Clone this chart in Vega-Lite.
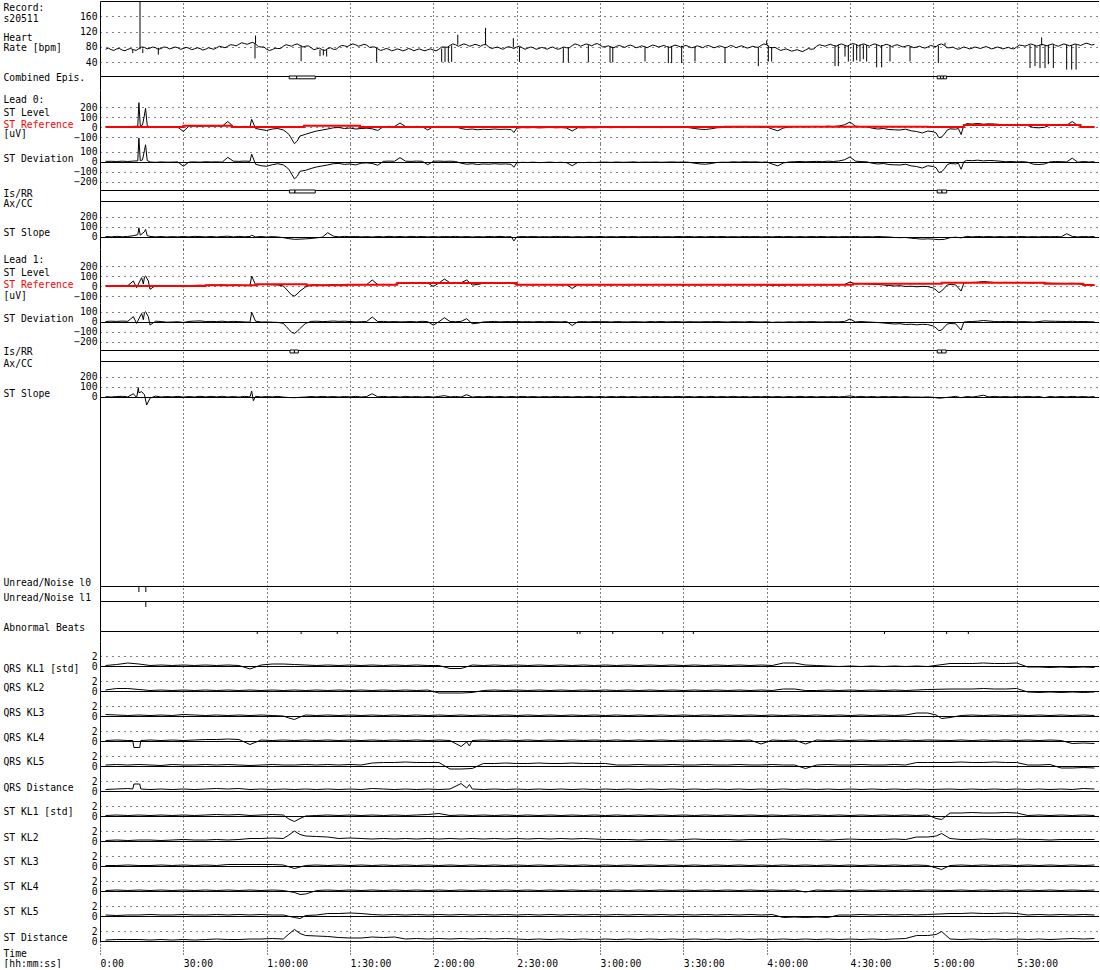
{
"$schema":"https://vega.github.io/schema/vega-lite/v6.json",
"background":"white",
"padding":{"left":3,"top":0,"right":0,"bottom":0},
"spacing":0,
"bounds":"flush",
"resolve":{"scale":{"x":"independent","y":"independent"},"axis":{"x":"independent","y":"independent"}},
"config":{
 "font":"DejaVu Sans Mono",
 "view":{"stroke":null},
 "mark":{"invalid":"filter"},
 "axis":{"labelFont":"DejaVu Sans Mono","labelFontSize":9.7,"labelColor":"black","titleFont":"DejaVu Sans Mono","titleFontSize":9.7,"titleFontWeight":"normal","titleColor":"black","domainColor":"black","tickColor":"black","gridColor":"black","gridOpacity":1,"gridWidth":1},
 "axisY":{"ticks":false,"domain":false,"labelPadding":3,"labelOverlap":false,"labelFlush":false,"gridDash":[1,5]}
},
"datasets":{
"main":[
{"t":2,"hr":74,"l0":3,"d0":3,"s0":2,"l1":2,"d1":2,"s1":1},
{"t":3,"hr":77},
{"t":4,"hr":73,"l0":5,"d0":4,"s0":-2,"l1":5,"d1":5,"s1":-3},
{"t":5,"hr":71},
{"t":6,"hr":75,"l0":2,"d0":2,"s0":3,"l1":3,"d1":3,"s1":2},
{"t":7,"hr":76},
{"t":8,"hr":72,"l0":4,"d0":5,"s0":-1,"l1":6,"d1":6,"s1":4},
{"t":9,"hr":70},
{"t":10,"hr":74,"l0":3,"d0":2,"s0":2,"l1":4,"d1":4,"s1":-2},
{"t":11,"hr":76},
{"t":12,"hr":73,"l0":6,"d0":6,"s0":10,"l1":50,"d1":50,"s1":30},
{"t":13,"hr":71},
{"t":13.2,"l1":-17,"d1":-17,"s1":-10},
{"t":13.6,"l0":8,"d0":8,"s0":20},
{"t":13.8,"s1":90},
{"t":14,"hr":76,"l0":243,"d0":234,"s0":90,"l1":30,"d1":30,"s1":40},
{"t":14.5,"l0":12,"d0":10,"s0":15},
{"t":15,"hr":80,"l1":83,"d1":83,"s1":50},
{"t":15.3,"l0":20,"d0":18},
{"t":15.6,"l1":20,"d1":20},
{"t":16,"hr":79,"l0":120,"d0":110,"s0":50,"l1":90,"d1":90,"s1":20},
{"t":16.4,"l0":187,"d0":167,"s0":74,"l1":100,"d1":100},
{"t":16.8,"s1":-83},
{"t":17,"hr":75,"l0":15,"d0":12,"s0":10},
{"t":17.4,"l1":50,"d1":50},
{"t":18,"hr":77,"l0":-3,"d0":-3,"s0":3,"l1":-33,"d1":-33,"s1":-15},
{"t":19,"hr":80},
{"t":20,"hr":78,"l0":-6,"d0":-6,"s0":-2,"l1":5,"d1":5,"s1":6},
{"t":21,"hr":74},
{"t":22,"hr":76,"l0":-2,"d0":-2,"s0":2,"l1":2,"d1":2,"s1":-3},
{"t":23,"hr":80},
{"t":24,"hr":79,"l0":-5,"d0":-5,"s0":-3,"l1":-5,"d1":-5,"s1":2},
{"t":25,"hr":75},
{"t":26,"hr":77,"l0":-4,"d0":-4,"s0":1,"l1":-3,"d1":-3,"s1":-2},
{"t":27,"hr":80},
{"t":28,"hr":78,"l0":-2,"d0":-2,"s0":-2,"l1":0,"d1":0,"s1":3},
{"t":29,"hr":74},
{"t":30,"hr":76,"l0":-45,"d0":-45,"s0":2,"l1":-8,"d1":-8,"s1":-4},
{"t":31,"hr":79},
{"t":32,"hr":77,"l0":8,"d0":-4,"s0":-2,"l1":3,"d1":3,"s1":2},
{"t":33,"hr":73},
{"t":34,"hr":75,"l0":10,"d0":-2,"s0":3,"l1":6,"d1":6,"s1":-3},
{"t":35,"hr":78},
{"t":36,"hr":76,"l0":7,"d0":-5,"s0":1,"l1":8,"d1":8,"s1":4},
{"t":37,"hr":72},
{"t":38,"hr":74,"l0":12,"d0":0,"s0":-2,"l1":5,"d1":2,"s1":-2},
{"t":39,"hr":78},
{"t":40,"hr":76,"l0":9,"d0":-3,"s0":2,"l1":10,"d1":3,"s1":3},
{"t":41,"hr":74},
{"t":42,"hr":78,"l0":11,"d0":-1,"s0":-3,"l1":8,"d1":1,"s1":-2},
{"t":43,"hr":82},
{"t":44,"hr":80,"l0":8,"d0":-4,"s0":2,"l1":12,"d1":5,"s1":4},
{"t":45,"hr":78},
{"t":46,"hr":82,"l0":55,"d0":43,"s0":5,"l1":6,"d1":-1,"s1":-3},
{"t":47,"hr":86},
{"t":48,"hr":85,"l0":5,"d0":5,"s0":-2,"l1":10,"d1":3,"s1":2},
{"t":49,"hr":83},
{"t":50,"hr":87,"l0":3,"d0":3,"s0":3,"l1":8,"d1":1,"s1":-4},
{"t":51,"hr":91},
{"t":52,"hr":89,"l0":6,"d0":6,"s0":-1,"l1":5,"d1":-2,"s1":3},
{"t":53,"hr":87},
{"t":54,"hr":90,"l0":4,"d0":4,"s0":2,"l1":3,"d1":-4,"s1":-2},
{"t":54.6,"l0":77,"d0":75,"s0":15,"l1":100,"d1":95,"s1":57},
{"t":55,"hr":92},
{"t":55.2,"s1":-40},
{"t":56,"hr":88,"l0":-15,"d0":-25,"s0":-3,"l1":12,"d1":5,"s1":4},
{"t":57,"hr":81},
{"t":58,"hr":80,"l0":-25,"d0":-40,"s0":2,"l1":14,"d1":-3,"s1":-3},
{"t":59,"hr":80},
{"t":60,"hr":74,"l0":-35,"d0":-45,"s0":-4,"l1":15,"d1":-2,"s1":2},
{"t":61,"hr":71},
{"t":62,"hr":73,"l0":-20,"d0":-30,"s0":1,"l1":12,"d1":-5,"s1":-2},
{"t":63,"hr":77},
{"t":64,"hr":76,"l0":-15,"d0":-20,"s0":-3,"l1":10,"d1":-7,"s1":3},
{"t":65,"hr":76},
{"t":66,"hr":82,"l0":-30,"d0":-32,"s0":-10,"l1":0,"d1":-17,"s1":-4},
{"t":67,"hr":86,"l0":-50,"d0":-52,"l1":-30,"d1":-47},
{"t":68,"hr":84,"l0":-73,"d0":-75,"s0":-20,"l1":-60,"d1":-77,"s1":-8},
{"t":69,"hr":82,"l0":-120,"d0":-122,"l1":-90,"d1":-107},
{"t":70,"hr":86,"l0":-167,"d0":-170,"s0":-27,"l1":-100,"d1":-117,"s1":-10},
{"t":71,"hr":88,"l0":-140,"d0":-145,"l1":-80,"d1":-97},
{"t":72,"hr":84,"l0":-90,"d0":-95,"s0":-25,"l1":-50,"d1":-67,"s1":-6},
{"t":73,"hr":80},
{"t":74,"hr":82,"l0":-73,"d0":-85,"s0":-22,"l1":-10,"d1":-17,"s1":-3},
{"t":75,"hr":83},
{"t":76,"hr":78,"l0":-55,"d0":-67,"s0":-18,"l1":10,"d1":3,"s1":2},
{"t":77,"hr":73},
{"t":78,"hr":75,"l0":-40,"d0":-52,"s0":-12,"l1":12,"d1":5,"s1":-2},
{"t":79,"hr":77},
{"t":80,"hr":73,"l0":-30,"d0":-42,"s0":-5,"l1":8,"d1":1,"s1":3},
{"t":81,"hr":71},
{"t":82,"hr":76,"l0":-20,"d0":-32,"s0":40,"l1":10,"d1":3,"s1":-2},
{"t":83,"hr":78},
{"t":84,"hr":74,"l0":-8,"d0":-20,"s0":5,"l1":14,"d1":7,"s1":2},
{"t":85,"hr":74},
{"t":86,"hr":80,"l0":-5,"d0":-17,"s0":-2,"l1":10,"d1":3,"s1":-3},
{"t":87,"hr":84},
{"t":88,"hr":83,"l0":-15,"d0":-27,"s0":3,"l1":12,"d1":5,"s1":2},
{"t":89,"hr":81},
{"t":90,"hr":85,"l0":-10,"d0":-22,"s0":-1,"l1":15,"d1":2,"s1":-2},
{"t":91,"hr":88},
{"t":92,"hr":86,"l0":-20,"d0":-32,"s0":2,"l1":11,"d1":-2,"s1":3},
{"t":93,"hr":82},
{"t":94,"hr":84,"l0":-15,"d0":-15,"s0":-2,"l1":13,"d1":0,"s1":-3},
{"t":95,"hr":87},
{"t":96,"hr":85,"l0":-12,"d0":-12,"s0":1,"l1":15,"d1":2,"s1":2},
{"t":97,"hr":79},
{"t":98,"hr":80,"l0":-18,"d0":-18,"s0":-3,"l1":60,"d1":47,"s1":30},
{"t":99,"hr":80},
{"t":100,"hr":75,"l0":-35,"d0":-35,"s0":2,"l1":14,"d1":1,"s1":-2},
{"t":101,"hr":71},
{"t":102,"hr":73,"l0":3,"d0":3,"s0":-2,"l1":16,"d1":3,"s1":3},
{"t":103,"hr":76},
{"t":104,"hr":74,"l0":6,"d0":6,"s0":3,"l1":12,"d1":-1,"s1":-2},
{"t":105,"hr":70},
{"t":106,"hr":72,"l0":4,"d0":4,"s0":-1,"l1":15,"d1":2,"s1":2},
{"t":107,"hr":75},
{"t":108,"hr":73,"l0":40,"d0":40,"s0":2,"l1":28,"d1":-2,"s1":-3},
{"t":109,"hr":70},
{"t":110,"hr":72,"l0":5,"d0":5,"s0":-2,"l1":30,"d1":0,"s1":3},
{"t":111,"hr":76},
{"t":112,"hr":74,"l0":3,"d0":3,"s0":3,"l1":32,"d1":2,"s1":-2},
{"t":113,"hr":70},
{"t":114,"hr":73,"l0":6,"d0":6,"s0":-1,"l1":28,"d1":-2,"s1":2},
{"t":115,"hr":75},
{"t":116,"hr":72,"l0":4,"d0":4,"s0":2,"l1":34,"d1":4,"s1":-3},
{"t":117,"hr":70},
{"t":118,"hr":73,"l0":-30,"d0":-30,"s0":-2,"l1":30,"d1":0,"s1":2},
{"t":119,"hr":75},
{"t":120,"hr":72,"l0":4,"d0":4,"s0":1,"l1":-5,"d1":-35,"s1":-4},
{"t":121,"hr":70},
{"t":122,"hr":74,"l0":6,"d0":6,"s0":-2,"l1":30,"d1":0,"s1":3},
{"t":123,"hr":80},
{"t":124,"hr":80,"l0":3,"d0":3,"s0":2,"l1":70,"d1":40,"s1":10},
{"t":125,"hr":79},
{"t":126,"hr":84,"l0":5,"d0":5,"s0":-1,"l1":32,"d1":2,"s1":-2},
{"t":127,"hr":88},
{"t":128,"hr":86,"l0":2,"d0":2,"s0":3,"l1":30,"d1":0,"s1":2},
{"t":129,"hr":82},
{"t":130,"hr":85,"l0":-15,"d0":-15,"s0":-2,"l1":33,"d1":3,"s1":-3},
{"t":131,"hr":88},
{"t":132,"hr":86,"l0":-25,"d0":-25,"s0":2,"l1":60,"d1":30,"s1":20},
{"t":133,"hr":82},
{"t":134,"hr":84,"l0":-20,"d0":-20,"s0":-3,"l1":10,"d1":-20,"s1":-4},
{"t":135,"hr":87},
{"t":136,"hr":85,"l0":-28,"d0":-28,"s0":1,"l1":15,"d1":-15,"s1":2},
{"t":137,"hr":82},
{"t":138,"hr":86,"l0":-22,"d0":-22,"s0":-2,"l1":28,"d1":-2,"s1":-2},
{"t":139,"hr":86},
{"t":140,"hr":80,"l0":-25,"d0":-25,"s0":2,"l1":30,"d1":0,"s1":3},
{"t":141,"hr":76},
{"t":142,"hr":78,"l0":-20,"d0":-20,"s0":-1,"l1":33,"d1":3,"s1":-2},
{"t":143,"hr":80},
{"t":144,"hr":77,"l0":-24,"d0":-24,"s0":3,"l1":28,"d1":-2,"s1":2},
{"t":145,"hr":74},
{"t":146,"hr":78,"l0":-22,"d0":-22,"s0":-2,"l1":32,"d1":2,"s1":-3},
{"t":147,"hr":81},
{"t":148,"hr":79,"l0":-26,"d0":-26,"s0":1,"l1":30,"d1":0,"s1":2},
{"t":149,"hr":76,"l0":-55,"d0":-55,"s0":-43},
{"t":150,"hr":80,"l0":-12,"d0":-12,"s0":-3,"l1":15,"d1":2,"s1":-2},
{"t":151,"hr":82},
{"t":152,"hr":78,"l0":-6,"d0":-6,"s0":2,"l1":12,"d1":-1,"s1":3},
{"t":153,"hr":74},
{"t":154,"hr":77,"l0":-8,"d0":-8,"s0":-1,"l1":14,"d1":1,"s1":-2},
{"t":155,"hr":80},
{"t":156,"hr":78,"l0":-5,"d0":-5,"s0":2,"l1":11,"d1":-2,"s1":2},
{"t":157,"hr":74},
{"t":158,"hr":76,"l0":-9,"d0":-9,"s0":-2,"l1":15,"d1":2,"s1":-3},
{"t":159,"hr":79},
{"t":160,"hr":77,"l0":-7,"d0":-7,"s0":1,"l1":12,"d1":-1,"s1":2},
{"t":161,"hr":74},
{"t":162,"hr":78,"l0":-4,"d0":-4,"s0":-2,"l1":14,"d1":1,"s1":-2},
{"t":163,"hr":80},
{"t":164,"hr":76,"l0":-8,"d0":-8,"s0":3,"l1":13,"d1":0,"s1":3},
{"t":165,"hr":74},
{"t":166,"hr":77,"l0":-6,"d0":-6,"s0":-1,"l1":11,"d1":-2,"s1":-2},
{"t":167,"hr":80},
{"t":168,"hr":78,"l0":-10,"d0":-10,"s0":2,"l1":15,"d1":2,"s1":2},
{"t":169,"hr":78},
{"t":170,"hr":84,"l0":-40,"d0":-40,"s0":-3,"l1":-25,"d1":-38,"s1":-3},
{"t":171,"hr":88},
{"t":172,"hr":86,"l0":-7,"d0":-7,"s0":1,"l1":12,"d1":-1,"s1":2},
{"t":173,"hr":82},
{"t":174,"hr":85,"l0":-9,"d0":-9,"s0":-2,"l1":14,"d1":1,"s1":-2},
{"t":175,"hr":88},
{"t":176,"hr":86,"l0":-6,"d0":-6,"s0":2,"l1":11,"d1":-2,"s1":3},
{"t":177,"hr":83},
{"t":178,"hr":87,"l0":-8,"d0":-8,"s0":-1,"l1":15,"d1":2,"s1":-2},
{"t":179,"hr":89},
{"t":180,"hr":85,"l0":-5,"d0":-5,"s0":2,"l1":12,"d1":-1,"s1":2},
{"t":181,"hr":80},
{"t":182,"hr":81,"l0":-4,"d0":-4,"s0":-2,"l1":14,"d1":1,"s1":-3},
{"t":183,"hr":83},
{"t":184,"hr":80,"l0":-7,"d0":-7,"s0":1,"l1":10,"d1":-3,"s1":2},
{"t":185,"hr":78},
{"t":186,"hr":82,"l0":-3,"d0":-3,"s0":-2,"l1":15,"d1":2,"s1":-2},
{"t":187,"hr":84},
{"t":188,"hr":81,"l0":-6,"d0":-6,"s0":2,"l1":12,"d1":-1,"s1":3},
{"t":189,"hr":79},
{"t":190,"hr":83,"l0":-5,"d0":-5,"s0":-1,"l1":11,"d1":-2,"s1":-2},
{"t":191,"hr":85},
{"t":192,"hr":82,"l0":-2,"d0":-2,"s0":2,"l1":14,"d1":1,"s1":2},
{"t":193,"hr":78},
{"t":194,"hr":80,"l0":-6,"d0":-6,"s0":-2,"l1":12,"d1":-1,"s1":-3},
{"t":195,"hr":83},
{"t":196,"hr":81,"l0":-4,"d0":-4,"s0":1,"l1":10,"d1":-3,"s1":2},
{"t":197,"hr":78},
{"t":198,"hr":82,"l0":-5,"d0":-5,"s0":-1,"l1":14,"d1":1,"s1":-2},
{"t":199,"hr":85},
{"t":200,"hr":83,"l0":-3,"d0":-3,"s0":2,"l1":12,"d1":-1,"s1":3},
{"t":201,"hr":80},
{"t":202,"hr":82,"l0":-6,"d0":-6,"s0":-2,"l1":15,"d1":2,"s1":-2},
{"t":203,"hr":84},
{"t":204,"hr":81,"l0":-4,"d0":-4,"s0":1,"l1":11,"d1":-2,"s1":2},
{"t":205,"hr":79},
{"t":206,"hr":82,"l0":-2,"d0":-2,"s0":-2,"l1":13,"d1":0,"s1":-2},
{"t":207,"hr":85},
{"t":208,"hr":83,"l0":-5,"d0":-5,"s0":2,"l1":14,"d1":1,"s1":3},
{"t":209,"hr":80},
{"t":210,"hr":82,"l0":-3,"d0":-3,"s0":-1,"l1":10,"d1":-3,"s1":-2},
{"t":211,"hr":84},
{"t":212,"hr":81,"l0":-6,"d0":-6,"s0":2,"l1":13,"d1":0,"s1":2},
{"t":213,"hr":78},
{"t":214,"hr":80,"l0":-15,"d0":-15,"s0":-2,"l1":12,"d1":-1,"s1":-3},
{"t":215,"hr":83},
{"t":216,"hr":81,"l0":-22,"d0":-22,"s0":1,"l1":11,"d1":-2,"s1":2},
{"t":217,"hr":78},
{"t":218,"hr":82,"l0":-25,"d0":-25,"s0":-2,"l1":14,"d1":1,"s1":-2},
{"t":219,"hr":84},
{"t":220,"hr":81,"l0":-18,"d0":-18,"s0":2,"l1":12,"d1":-1,"s1":3},
{"t":221,"hr":78},
{"t":222,"hr":80,"l0":-8,"d0":-8,"s0":-1,"l1":15,"d1":2,"s1":-2},
{"t":223,"hr":83},
{"t":224,"hr":81,"l0":-5,"d0":-5,"s0":2,"l1":12,"d1":-1,"s1":2},
{"t":225,"hr":78},
{"t":226,"hr":80,"l0":-3,"d0":-6,"s0":-2,"l1":10,"d1":-3,"s1":-2},
{"t":227,"hr":84},
{"t":228,"hr":82,"l0":2,"d0":-1,"s0":1,"l1":14,"d1":1,"s1":3},
{"t":229,"hr":78},
{"t":230,"hr":81,"l0":-1,"d0":-4,"s0":-2,"l1":12,"d1":-1,"s1":-2},
{"t":231,"hr":83},
{"t":232,"hr":80,"l0":3,"d0":0,"s0":2,"l1":11,"d1":-2,"s1":2},
{"t":233,"hr":77},
{"t":234,"hr":79,"l0":0,"d0":-3,"s0":-1,"l1":14,"d1":1,"s1":-3},
{"t":235,"hr":82},
{"t":236,"hr":80,"l0":2,"d0":-1,"s0":2,"l1":12,"d1":-1,"s1":2},
{"t":237,"hr":79},
{"t":238,"hr":84,"l0":-3,"d0":-6,"s0":-2,"l1":10,"d1":-3,"s1":-2},
{"t":239,"hr":88},
{"t":240,"hr":86,"l0":0,"d0":-3,"s0":1,"l1":13,"d1":0,"s1":3},
{"t":241,"hr":79},
{"t":242,"hr":78,"l0":-20,"d0":-23,"s0":-2,"l1":6,"d1":-7,"s1":-2},
{"t":243,"hr":79},
{"t":244,"hr":75,"l0":-38,"d0":-41,"s0":2,"l1":10,"d1":-3,"s1":2},
{"t":245,"hr":71},
{"t":246,"hr":73,"l0":-10,"d0":-13,"s0":-1,"l1":8,"d1":-5,"s1":-3},
{"t":247,"hr":75},
{"t":248,"hr":72,"l0":0,"d0":-3,"s0":2,"l1":12,"d1":-1,"s1":2},
{"t":249,"hr":69},
{"t":250,"hr":71,"l0":3,"d0":0,"s0":-2,"l1":10,"d1":-3,"s1":-2},
{"t":251,"hr":73},
{"t":252,"hr":70,"l0":5,"d0":2,"s0":1,"l1":13,"d1":0,"s1":3},
{"t":253,"hr":68},
{"t":254,"hr":72,"l0":2,"d0":-1,"s0":-2,"l1":11,"d1":-2,"s1":-2},
{"t":255,"hr":76},
{"t":256,"hr":74,"l0":4,"d0":1,"s0":2,"l1":14,"d1":1,"s1":2},
{"t":257,"hr":75},
{"t":258,"hr":82,"l0":6,"d0":3,"s0":-1,"l1":12,"d1":-1,"s1":-3},
{"t":259,"hr":86},
{"t":260,"hr":84,"l0":3,"d0":0,"s0":2,"l1":10,"d1":-3,"s1":2},
{"t":261,"hr":82},
{"t":262,"hr":85,"l0":8,"d0":5,"s0":-2,"l1":13,"d1":0,"s1":-2},
{"t":263,"hr":87},
{"t":264,"hr":84,"l0":5,"d0":2,"s0":1,"l1":11,"d1":-2,"s1":3},
{"t":265,"hr":82},
{"t":266,"hr":86,"l0":10,"d0":7,"s0":-2,"l1":12,"d1":-1,"s1":-2},
{"t":267,"hr":88},
{"t":268,"hr":85,"l0":22,"d0":19,"s0":2,"l1":15,"d1":2,"s1":2},
{"t":269,"hr":82},
{"t":270,"hr":86,"l0":50,"d0":47,"s0":-1,"l1":40,"d1":27,"s1":8},
{"t":271,"hr":89},
{"t":272,"hr":87,"l0":8,"d0":5,"s0":2,"l1":20,"d1":-3,"s1":-2},
{"t":273,"hr":83},
{"t":274,"hr":86,"l0":4,"d0":1,"s0":-2,"l1":25,"d1":2,"s1":3},
{"t":275,"hr":88},
{"t":276,"hr":85,"l0":2,"d0":-1,"s0":1,"l1":21,"d1":-2,"s1":-2},
{"t":277,"hr":82},
{"t":278,"hr":86,"l0":-12,"d0":-15,"s0":-2,"l1":18,"d1":-5,"s1":2},
{"t":279,"hr":88},
{"t":280,"hr":85,"l0":-20,"d0":-23,"s0":2,"l1":15,"d1":-8,"s1":-3},
{"t":281,"hr":82},
{"t":282,"hr":84,"l0":-15,"d0":-18,"s0":-1,"l1":10,"d1":-13,"s1":2},
{"t":283,"hr":87},
{"t":284,"hr":85,"l0":-25,"d0":-28,"s0":-3,"l1":5,"d1":-18,"s1":-2},
{"t":285,"hr":81},
{"t":286,"hr":84,"l0":-28,"d0":-31,"s0":-8,"l1":0,"d1":-23,"s1":2},
{"t":287,"hr":86},
{"t":288,"hr":83,"l0":-30,"d0":-33,"s0":-10,"l1":3,"d1":-20,"s1":-3},
{"t":289,"hr":80},
{"t":290,"hr":82,"l0":-22,"d0":-25,"s0":-8,"l1":-5,"d1":-28,"s1":2},
{"t":291,"hr":84},
{"t":292,"hr":81,"l0":-38,"d0":-41,"s0":-15,"l1":-2,"d1":-25,"s1":-4},
{"t":293,"hr":78},
{"t":294,"hr":80,"l0":-45,"d0":-48,"s0":-20,"l1":-8,"d1":-31,"s1":-3},
{"t":295,"hr":82},
{"t":296,"hr":79,"l0":-60,"d0":-63,"s0":-25,"l1":-3,"d1":-26,"s1":-5},
{"t":297,"hr":77},
{"t":298,"hr":80,"l0":-40,"d0":-40,"s0":-22,"l1":-6,"d1":-29,"s1":-2},
{"t":299,"hr":84},
{"t":300,"hr":82,"l0":-48,"d0":-48,"s0":-25,"l1":-20,"d1":-43,"s1":-6},
{"t":301,"hr":81,"l0":-60,"d0":-60,"l1":-40,"d1":-63},
{"t":302,"hr":86,"l0":-107,"d0":-107,"s0":-30,"l1":-67,"d1":-90,"s1":-15},
{"t":303,"hr":88,"l0":-100,"d0":-100,"l1":-50,"d1":-83},
{"t":304,"hr":84,"l0":-70,"d0":-70,"s0":-27,"l1":-20,"d1":-53,"s1":-10},
{"t":305,"hr":78,"l0":-30,"d0":-30,"l1":10,"d1":-23},
{"t":306,"hr":78,"l0":-18,"d0":-18,"s0":-10,"l1":15,"d1":-18,"s1":-4},
{"t":307,"hr":80},
{"t":308,"hr":76,"l0":-22,"d0":-22,"s0":-5,"l1":12,"d1":-21,"s1":3},
{"t":309,"hr":74,"l0":-15,"d0":-15},
{"t":310,"hr":77,"l0":-75,"d0":-75,"s0":-12,"l1":-50,"d1":-83,"s1":-10},
{"t":311,"hr":80,"l0":20,"d0":0,"l1":30,"d1":-3},
{"t":312,"hr":78,"l0":33,"d0":13,"s0":3,"l1":33,"d1":0,"s1":2},
{"t":313,"hr":75},
{"t":314,"hr":77,"l0":30,"d0":10,"s0":-2,"l1":35,"d1":2,"s1":-3},
{"t":315,"hr":80},
{"t":316,"hr":78,"l0":35,"d0":15,"s0":2,"l1":38,"d1":5,"s1":4},
{"t":317,"hr":76},
{"t":318,"hr":79,"l0":28,"d0":8,"s0":-1,"l1":45,"d1":12,"s1":15},
{"t":319,"hr":81},
{"t":320,"hr":78,"l0":32,"d0":12,"s0":2,"l1":40,"d1":7,"s1":-2},
{"t":321,"hr":75},
{"t":322,"hr":77,"l0":30,"d0":10,"s0":-2,"l1":35,"d1":2,"s1":3},
{"t":323,"hr":80},
{"t":324,"hr":78,"l0":25,"d0":5,"s0":1,"l1":33,"d1":0,"s1":-2},
{"t":325,"hr":75},
{"t":326,"hr":77,"l0":20,"d0":0,"s0":-2,"l1":36,"d1":3,"s1":2},
{"t":327,"hr":79},
{"t":328,"hr":76,"l0":22,"d0":2,"s0":2,"l1":34,"d1":1,"s1":-3},
{"t":329,"hr":75},
{"t":330,"hr":80,"l0":18,"d0":-2,"s0":-1,"l1":32,"d1":-1,"s1":2},
{"t":331,"hr":85},
{"t":332,"hr":84,"l0":21,"d0":1,"s0":2,"l1":35,"d1":2,"s1":-2},
{"t":333,"hr":82},
{"t":334,"hr":85,"l0":15,"d0":-5,"s0":-2,"l1":33,"d1":0,"s1":3},
{"t":335,"hr":88},
{"t":336,"hr":86,"l0":-5,"d0":-25,"s0":1,"l1":30,"d1":-3,"s1":-2},
{"t":337,"hr":82},
{"t":338,"hr":84,"l0":-8,"d0":-28,"s0":-2,"l1":34,"d1":1,"s1":2},
{"t":339,"hr":87},
{"t":340,"hr":85,"l0":-3,"d0":-23,"s0":2,"l1":31,"d1":8,"s1":-10},
{"t":341,"hr":83},
{"t":342,"hr":86,"l0":18,"d0":-2,"s0":-1,"l1":28,"d1":5,"s1":2},
{"t":343,"hr":88},
{"t":344,"hr":84,"l0":22,"d0":2,"s0":2,"l1":27,"d1":4,"s1":-3},
{"t":345,"hr":82},
{"t":346,"hr":85,"l0":20,"d0":0,"s0":-2,"l1":26,"d1":3,"s1":2},
{"t":347,"hr":88},
{"t":348,"hr":86,"l0":18,"d0":-2,"s0":30,"l1":25,"d1":2,"s1":-2},
{"t":349,"hr":83},
{"t":350,"hr":85,"l0":55,"d0":35,"s0":3,"l1":27,"d1":4,"s1":3},
{"t":351,"hr":88},
{"t":352,"hr":86,"l0":15,"d0":-5,"s0":-2,"l1":24,"d1":1,"s1":-2},
{"t":353,"hr":84},
{"t":354,"hr":87,"l0":2,"d0":2,"s0":2,"l1":12,"d1":2,"s1":2},
{"t":355,"hr":90},
{"t":356,"hr":88,"l0":-3,"d0":-3,"s0":-1,"l1":10,"d1":0,"s1":-3},
{"t":357,"hr":85},
{"t":358,"hr":87,"l0":0,"d0":0,"s0":2,"l1":8,"d1":-2,"s1":2}
],
"hrspk":[
{"t":11.8,"base":73,"tip":64},{"t":14.4,"base":74,"tip":200},{"t":15.4,"base":76,"tip":64},{"t":21,"base":78,"tip":60},
{"t":55.8,"base":90,"tip":50},{"t":56,"base":90,"tip":110},{"t":72.4,"base":84,"tip":43},{"t":79.2,"base":73,"tip":56},
{"t":80.4,"base":73,"tip":58},{"t":81.6,"base":75,"tip":55},{"t":99.6,"base":78,"tip":41},{"t":123,"base":76,"tip":41},
{"t":124.2,"base":80,"tip":41},{"t":125.4,"base":82,"tip":41},{"t":126.6,"base":84,"tip":41},{"t":128.8,"base":86,"tip":112},
{"t":138.8,"base":86,"tip":130},{"t":148.8,"base":79,"tip":103},{"t":151,"base":80,"tip":41},{"t":166.8,"base":77,"tip":40},
{"t":168.6,"base":78,"tip":40},{"t":175.8,"base":85,"tip":40},{"t":183.6,"base":81,"tip":40},{"t":184.6,"base":80,"tip":40},
{"t":196.2,"base":81,"tip":42},{"t":204.6,"base":81,"tip":38},{"t":205.8,"base":82,"tip":38},{"t":209.4,"base":83,"tip":38},
{"t":214.2,"base":80,"tip":42},{"t":225,"base":80,"tip":38},{"t":237,"base":80,"tip":30},{"t":240,"base":86,"tip":97},
{"t":240.6,"base":84,"tip":42},{"t":241.8,"base":80,"tip":42},{"t":264.6,"base":84,"tip":30},{"t":265.8,"base":85,"tip":30},
{"t":268.2,"base":85,"tip":55},{"t":269.4,"base":85,"tip":42},{"t":271.2,"base":86,"tip":42},{"t":272.4,"base":87,"tip":45},
{"t":273.6,"base":86,"tip":42},{"t":274.8,"base":86,"tip":48},{"t":276,"base":85,"tip":42},{"t":279.6,"base":86,"tip":27},
{"t":281.4,"base":85,"tip":27},{"t":284.4,"base":85,"tip":42},{"t":291.6,"base":81,"tip":42},{"t":301.8,"base":84,"tip":38},
{"t":304.2,"base":84,"tip":91},{"t":334.8,"base":85,"tip":25},{"t":336.6,"base":86,"tip":30},{"t":338.4,"base":84,"tip":25},
{"t":339,"base":84,"tip":105},{"t":340.2,"base":85,"tip":25},{"t":341.4,"base":86,"tip":35},{"t":343.2,"base":86,"tip":25},
{"t":348,"base":86,"tip":21},{"t":349.8,"base":85,"tip":21},{"t":351.4,"base":86,"tip":21}
],
"ref":[
{"lead":0,"t":2,"v":0},{"lead":0,"t":30,"v":12},{"lead":0,"t":47.4,"v":0},{"lead":0,"t":73.4,"v":12},{"lead":0,"t":93.6,"v":0},
{"lead":0,"t":225,"v":3},{"lead":0,"t":298,"v":0},{"lead":0,"t":311,"v":20},{"lead":0,"t":353,"v":0},{"lead":0,"t":358,"v":0},
{"lead":1,"t":2,"v":0},{"lead":1,"t":38,"v":7},{"lead":1,"t":56.4,"v":17},{"lead":1,"t":74.4,"v":7},{"lead":1,"t":88.8,"v":13},
{"lead":1,"t":107,"v":30},{"lead":1,"t":150,"v":13},{"lead":1,"t":271,"v":23},{"lead":1,"t":303,"v":33},{"lead":1,"t":340,"v":23},
{"lead":1,"t":354,"v":10},{"lead":1,"t":358,"v":10}
],
"boxes":[
{"lane":"comb","t0":68.1,"t1":70.8},{"lane":"comb","t0":70.8,"t1":77.5},{"lane":"comb","t0":301.4,"t1":302.6},{"lane":"comb","t0":302.6,"t1":303.6},{"lane":"comb","t0":303.6,"t1":304.8},
{"lane":"is0","t0":68.2,"t1":70.2},{"lane":"is0","t0":70.2,"t1":77.5},{"lane":"is0","t0":301.4,"t1":303.1},{"lane":"is0","t0":303.1,"t1":304.8},
{"lane":"is1","t0":68.4,"t1":70.0},{"lane":"is1","t0":70.0,"t1":71.4},{"lane":"is1","t0":301.4,"t1":303.0},{"lane":"is1","t0":303.0,"t1":304.6}
],
"beats":[
{"lane":"n0","t":14.0},{"lane":"n0","t":16.5},{"lane":"n1","t":16.5},
{"lane":"ab","t":56.6},{"lane":"ab","t":72.4},{"lane":"ab","t":85.4},{"lane":"ab","t":171.8},{"lane":"ab","t":172.8},{"lane":"ab","t":184.6},
{"lane":"ab","t":202.6},{"lane":"ab","t":213.6},{"lane":"ab","t":282.4},{"lane":"ab","t":304.8},{"lane":"ab","t":312.6}
],
"kl":[
{"t":2,"q1":0.1,"q2":0.2,"q3":0.3,"q4":0.1,"q5":0.2,"qd":0.3,"k1":0.1,"k2":0.1,"k3":0.1,"k4":0.1,"k5":0.2,"kd":0.2},
{"t":6,"q1":0.3,"q2":0.5,"q3":0.2,"q4":0.2,"q5":0.3,"qd":0.4,"k1":0.2,"k2":0.2,"k3":0.1,"k4":0.2,"k5":0.1,"kd":0.3},
{"t":10,"q1":0.6,"q2":0.5,"q3":0.1,"q4":0.1,"q5":0.2,"qd":0.5,"k1":0.1,"k2":0.1,"k3":0.2,"k4":0.1,"k5":0.2,"kd":0.3},
{"t":11.8,"q4":0.1,"qd":0.4},
{"t":12.2,"q4":-1.3,"qd":1.4},
{"t":14,"q1":0.4,"q2":0.3,"q3":0.2,"q4":-1.3,"q5":0.3,"qd":1.4,"k1":0.2,"k2":0.2,"k3":0.1,"k4":0.2,"k5":0.2,"kd":0.3},
{"t":14.3,"q4":-1.3,"qd":1.4},
{"t":14.7,"q4":0.1,"qd":0.4},
{"t":18,"q1":0.1,"q2":0.1,"q3":0.1,"q4":0.2,"q5":0.2,"qd":0.3,"k1":0.1,"k2":0.2,"k3":0.1,"k4":0.1,"k5":0.3,"kd":0.2},
{"t":22,"q1":0.2,"q2":0.2,"q3":0.2,"q4":0.1,"q5":0.1,"qd":0.4,"k1":0.2,"k2":0.1,"k3":0.2,"k4":0.2,"k5":0.2,"kd":0.3},
{"t":26,"q1":0.1,"q2":0.1,"q3":0.1,"q4":0.2,"q5":0.3,"qd":0.3,"k1":0.1,"k2":0.2,"k3":0.1,"k4":0.1,"k5":0.2,"kd":0.2},
{"t":30,"q1":0.2,"q2":0.2,"q3":0.3,"q4":0.1,"q5":0.2,"qd":0.4,"k1":0.2,"k2":0.3,"k3":0.2,"k4":0.2,"k5":0.3,"kd":0.3},
{"t":34,"q1":0.1,"q2":0.1,"q3":0.2,"q4":0.2,"q5":0.2,"qd":0.3,"k1":0.1,"k2":0.2,"k3":0.1,"k4":0.1,"k5":0.2,"kd":0.2},
{"t":38,"q1":0.2,"q2":0.2,"q3":0.1,"q4":0.3,"q5":0.3,"qd":0.4,"k1":0.2,"k2":0.2,"k3":0.2,"k4":0.2,"k5":0.2,"kd":0.3},
{"t":42,"q1":0.1,"q2":0.1,"q3":0.2,"q4":0.3,"q5":0.2,"qd":0.5,"k1":0.3,"k2":0.3,"k3":0.1,"k4":0.1,"k5":0.3,"kd":0.4},
{"t":46,"q1":0.2,"q2":0.2,"q3":0.1,"q4":0.4,"q5":0.3,"qd":0.4,"k1":0.2,"k2":0.2,"k3":0.3,"k4":0.2,"k5":0.2,"kd":0.3},
{"t":50,"q1":0.1,"q2":0.1,"q3":0.2,"q4":0.3,"q5":0.2,"qd":0.5,"k1":0.3,"k2":0.3,"k3":0.3,"k4":0.1,"k5":0.3,"kd":0.3},
{"t":54,"q1":-0.6,"q2":0.2,"q3":0.1,"q4":-0.7,"q5":0.1,"qd":0.3,"k1":0.1,"k2":0.5,"k3":0.3,"k4":0.2,"k5":0.2,"kd":0.4},
{"t":58,"q1":0.2,"q2":0.1,"q3":0.2,"q4":0.2,"q5":0.2,"qd":0.4,"k1":0.2,"k2":0.5,"k3":0.3,"k4":0.1,"k5":0.3,"kd":0.4},
{"t":62,"q1":0.4,"q2":0.2,"q3":0.1,"q4":0.1,"q5":0.3,"qd":0.3,"k1":0.3,"k2":0.6,"k3":0.3,"k4":0.2,"k5":0.2,"kd":0.5},
{"t":66,"q1":0.4,"q2":0.1,"q3":0.0,"q4":0.2,"q5":0.2,"qd":0.4,"k1":0.2,"k2":0.5,"k3":0.2,"k4":0.1,"k5":0.2,"kd":0.4},
{"t":68,"q3":-0.4,"k1":-0.6,"k2":1.2,"kd":1.4},
{"t":70,"q1":0.3,"q2":0.2,"q3":-0.7,"q4":0.1,"q5":0.2,"qd":0.3,"k1":-1.1,"k2":2.0,"k3":-0.5,"k4":-0.3,"k5":-0.3,"kd":2.3},
{"t":72,"q3":-0.2,"k1":-0.5,"k2":1.3,"k4":-0.7,"k5":-0.5,"kd":1.5},
{"t":74,"q1":0.2,"q2":0.1,"q3":0.2,"q4":0.2,"q5":0.3,"qd":0.4,"k1":0.0,"k2":1.0,"k3":0.1,"k4":-0.6,"k5":0.1,"kd":1.1},
{"t":78,"q1":0.1,"q2":0.2,"q3":0.1,"q4":0.1,"q5":0.2,"qd":0.3,"k1":0.1,"k2":0.9,"k3":0.2,"k4":0.1,"k5":0.2,"kd":1.0},
{"t":82,"q1":0.2,"q2":0.1,"q3":0.2,"q4":0.2,"q5":0.3,"qd":0.4,"k1":0.2,"k2":0.8,"k3":0.1,"k4":0.2,"k5":0.5,"kd":0.9},
{"t":86,"q1":0.1,"q2":0.2,"q3":0.1,"q4":0.1,"q5":0.2,"qd":0.3,"k1":0.1,"k2":0.5,"k3":0.2,"k4":0.1,"k5":0.5,"kd":0.7},
{"t":90,"q1":0.2,"q2":0.1,"q3":0.2,"q4":0.2,"q5":0.3,"qd":0.4,"k1":0.2,"k2":0.6,"k3":0.1,"k4":0.2,"k5":0.6,"kd":0.6},
{"t":94,"q1":0.1,"q2":0.2,"q3":0.1,"q4":0.1,"q5":0.2,"qd":0.3,"k1":0.1,"k2":0.5,"k3":0.2,"k4":0.1,"k5":0.5,"kd":0.6},
{"t":98,"q1":0.2,"q2":0.1,"q3":0.2,"q4":0.2,"q5":0.6,"qd":0.5,"k1":0.2,"k2":0.4,"k3":0.1,"k4":0.2,"k5":0.3,"kd":0.8},
{"t":102,"q1":0.1,"q2":0.2,"q3":0.1,"q4":0.1,"q5":0.7,"qd":0.4,"k1":0.1,"k2":0.5,"k3":0.2,"k4":0.1,"k5":0.2,"kd":0.7},
{"t":106,"q1":0.2,"q2":0.1,"q3":0.2,"q4":0.2,"q5":0.7,"qd":0.3,"k1":0.2,"k2":0.4,"k3":0.1,"k4":0.2,"k5":0.3,"kd":0.8},
{"t":110,"q1":0.1,"q2":0.2,"q3":0.1,"q4":0.1,"q5":0.8,"qd":0.4,"k1":0.1,"k2":0.5,"k3":0.2,"k4":0.1,"k5":0.2,"kd":0.4},
{"t":114,"q1":0.2,"q2":0.1,"q3":0.2,"q4":0.2,"q5":0.7,"qd":0.3,"k1":0.2,"k2":0.4,"k3":0.1,"k4":0.2,"k5":0.3,"kd":0.5},
{"t":118,"q1":0.1,"q2":0.2,"q3":0.1,"q4":0.1,"q5":0.7,"qd":0.4,"k1":0.3,"k2":0.5,"k3":0.2,"k4":0.1,"k5":0.2,"kd":0.4},
{"t":122,"q1":0.1,"q2":-0.4,"q3":0.2,"q4":0.2,"q5":0.7,"qd":0.3,"k1":0.5,"k2":0.4,"k3":0.1,"k4":0.2,"k5":0.3,"kd":0.5},
{"t":126,"q1":-0.5,"q2":-0.4,"q3":0.1,"q4":0.1,"q5":-0.6,"qd":0.4,"k1":0.1,"k2":0.5,"k3":0.2,"k4":0.1,"k5":0.2,"kd":0.4},
{"t":130,"q1":-0.5,"q2":-0.4,"q3":0.2,"q4":-1.1,"q5":-0.6,"qd":1.5,"k1":0.2,"k2":0.4,"k3":0.1,"k4":0.2,"k5":0.3,"kd":0.5},
{"t":132,"q4":-0.2,"qd":0.6},
{"t":133,"q4":-1.0,"qd":1.3},
{"t":134,"q1":0.2,"q2":-0.3,"q3":0.1,"q4":0.1,"q5":-0.5,"qd":0.4,"k1":0.1,"k2":0.5,"k3":0.2,"k4":0.1,"k5":0.2,"kd":0.4},
{"t":138,"q1":0.1,"q2":0.1,"q3":0.2,"q4":0.2,"q5":0.5,"qd":0.3,"k1":0.2,"k2":0.4,"k3":0.1,"k4":0.2,"k5":0.3,"kd":0.5},
{"t":142,"q1":0.2,"q2":0.2,"q3":0.1,"q4":0.1,"q5":0.5,"qd":0.4,"k1":0.1,"k2":0.5,"k3":0.2,"k4":0.1,"k5":0.2,"kd":0.4},
{"t":146,"q1":0.1,"q2":0.1,"q3":0.2,"q4":0.2,"q5":0.6,"qd":0.3,"k1":0.2,"k2":0.4,"k3":0.1,"k4":0.2,"k5":0.3,"kd":0.5},
{"t":150,"q1":0.2,"q2":0.2,"q3":0.1,"q4":0.1,"q5":0.5,"qd":0.4,"k1":0.1,"k2":0.5,"k3":0.2,"k4":0.1,"k5":0.2,"kd":0.4},
{"t":154,"q1":0.1,"q2":0.1,"q3":0.2,"q4":0.2,"q5":0.5,"qd":0.3,"k1":0.2,"k2":0.4,"k3":0.1,"k4":0.2,"k5":0.3,"kd":0.3},
{"t":158,"q1":0.2,"q2":0.2,"q3":0.1,"q4":0.1,"q5":0.6,"qd":0.4,"k1":0.1,"k2":0.5,"k3":0.2,"k4":0.1,"k5":0.2,"kd":0.4},
{"t":162,"q1":0.1,"q2":0.1,"q3":0.2,"q4":0.2,"q5":0.5,"qd":0.3,"k1":0.2,"k2":0.4,"k3":0.1,"k4":0.2,"k5":0.3,"kd":0.3},
{"t":166,"q1":0.2,"q2":0.2,"q3":0.1,"q4":0.1,"q5":0.5,"qd":0.4,"k1":0.1,"k2":0.5,"k3":0.2,"k4":0.1,"k5":0.2,"kd":0.4},
{"t":170,"q1":0.1,"q2":0.1,"q3":0.2,"q4":0.2,"q5":0.6,"qd":0.3,"k1":0.2,"k2":0.4,"k3":0.1,"k4":0.2,"k5":0.3,"kd":0.3},
{"t":174,"q1":0.2,"q2":0.2,"q3":0.1,"q4":0.1,"q5":0.5,"qd":0.4,"k1":0.1,"k2":0.5,"k3":0.2,"k4":0.1,"k5":0.2,"kd":0.4},
{"t":178,"q1":0.1,"q2":0.1,"q3":0.2,"q4":0.2,"q5":0.5,"qd":0.3,"k1":0.2,"k2":0.4,"k3":0.1,"k4":0.2,"k5":0.3,"kd":0.3},
{"t":182,"q1":0.2,"q2":0.2,"q3":0.1,"q4":0.1,"q5":0.5,"qd":0.4,"k1":0.1,"k2":0.3,"k3":0.2,"k4":0.1,"k5":0.2,"kd":0.4},
{"t":186,"q1":0.1,"q2":0.1,"q3":0.2,"q4":0.2,"q5":0.2,"qd":0.3,"k1":0.2,"k2":0.3,"k3":0.1,"k4":0.2,"k5":0.3,"kd":0.3},
{"t":190,"q1":0.2,"q2":0.2,"q3":0.1,"q4":0.1,"q5":0.2,"qd":0.4,"k1":0.1,"k2":0.3,"k3":0.2,"k4":0.1,"k5":0.2,"kd":0.4},
{"t":194,"q1":0.1,"q2":0.1,"q3":0.2,"q4":0.2,"q5":0.3,"qd":0.3,"k1":0.2,"k2":0.2,"k3":0.1,"k4":0.2,"k5":0.3,"kd":0.3},
{"t":198,"q1":0.2,"q2":0.2,"q3":0.1,"q4":0.1,"q5":0.2,"qd":0.4,"k1":0.1,"k2":0.3,"k3":0.2,"k4":0.1,"k5":0.2,"kd":0.4},
{"t":202,"q1":0.1,"q2":0.1,"q3":0.2,"q4":0.2,"q5":0.2,"qd":0.3,"k1":0.2,"k2":0.3,"k3":0.1,"k4":0.2,"k5":0.3,"kd":0.3},
{"t":206,"q1":0.2,"q2":0.2,"q3":0.1,"q4":0.1,"q5":0.3,"qd":0.4,"k1":0.1,"k2":0.2,"k3":0.2,"k4":0.1,"k5":0.2,"kd":0.4},
{"t":210,"q1":0.1,"q2":0.1,"q3":0.2,"q4":0.2,"q5":0.2,"qd":0.3,"k1":0.2,"k2":0.3,"k3":0.1,"k4":0.2,"k5":0.3,"kd":0.3},
{"t":214,"q1":0.2,"q2":0.2,"q3":0.1,"q4":0.1,"q5":0.2,"qd":0.4,"k1":0.1,"k2":0.4,"k3":0.2,"k4":0.1,"k5":0.2,"kd":0.4},
{"t":218,"q1":0.1,"q2":0.1,"q3":0.2,"q4":0.2,"q5":0.3,"qd":0.3,"k1":0.2,"k2":0.3,"k3":0.1,"k4":0.2,"k5":0.3,"kd":0.3},
{"t":222,"q1":0.2,"q2":0.2,"q3":0.1,"q4":0.1,"q5":0.2,"qd":0.4,"k1":0.1,"k2":0.3,"k3":0.2,"k4":0.1,"k5":0.2,"kd":0.4},
{"t":226,"q1":0.1,"q2":0.1,"q3":0.2,"q4":0.2,"q5":0.2,"qd":0.3,"k1":0.2,"k2":0.3,"k3":0.1,"k4":0.2,"k5":0.3,"kd":0.3},
{"t":230,"q1":0.2,"q2":0.2,"q3":0.1,"q4":0.1,"q5":0.3,"qd":0.4,"k1":0.1,"k2":0.2,"k3":0.2,"k4":0.1,"k5":0.2,"kd":0.4},
{"t":234,"q1":0.1,"q2":0.1,"q3":0.2,"q4":0.2,"q5":0.2,"qd":0.3,"k1":0.2,"k2":0.3,"k3":0.1,"k4":0.2,"k5":0.3,"kd":0.3},
{"t":238,"q1":0.2,"q2":0.2,"q3":0.1,"q4":-0.6,"q5":0.2,"qd":0.4,"k1":0.1,"k2":0.3,"k3":0.2,"k4":0.1,"k5":0.2,"kd":0.4},
{"t":242,"q1":0.1,"q2":0.1,"q3":0.2,"q4":0.2,"q5":0.3,"qd":0.3,"k1":0.2,"k2":0.3,"k3":0.1,"k4":0.2,"k5":0.3,"kd":0.3},
{"t":246,"q1":0.6,"q2":0.4,"q3":0.1,"q4":0.1,"q5":0.2,"qd":0.4,"k1":0.1,"k2":0.4,"k3":0.2,"k4":0.1,"k5":-0.3,"kd":0.4},
{"t":250,"q1":0.6,"q2":0.4,"q3":0.2,"q4":0.2,"q5":0.2,"qd":0.3,"k1":0.2,"k2":0.3,"k3":0.1,"k4":0.2,"k5":-0.2,"kd":0.3},
{"t":254,"q1":0.2,"q2":0.1,"q3":0.1,"q4":-0.6,"q5":-0.5,"qd":0.4,"k1":0.1,"k2":0.3,"k3":0.2,"k4":-0.2,"k5":-0.3,"kd":0.4},
{"t":258,"q1":0.1,"q2":0.1,"q3":0.2,"q4":0.2,"q5":0.2,"qd":0.3,"k1":0.2,"k2":0.3,"k3":0.1,"k4":0.2,"k5":-0.2,"kd":0.3},
{"t":262,"q1":0.0,"q2":0.2,"q3":0.1,"q4":0.1,"q5":0.3,"qd":0.4,"k1":0.1,"k2":0.2,"k3":0.2,"k4":0.1,"k5":-0.3,"kd":0.4},
{"t":266,"q1":-0.1,"q2":0.1,"q3":0.2,"q4":0.2,"q5":0.2,"qd":0.3,"k1":0.2,"k2":0.3,"k3":0.1,"k4":0.2,"k5":0.2,"kd":0.3},
{"t":270,"q1":0.0,"q2":0.2,"q3":0.1,"q4":0.1,"q5":0.2,"qd":0.4,"k1":0.1,"k2":0.4,"k3":0.2,"k4":0.1,"k5":0.2,"kd":0.4},
{"t":274,"q1":-0.1,"q2":0.1,"q3":0.2,"q4":0.2,"q5":0.3,"qd":0.3,"k1":0.2,"k2":0.3,"k3":0.1,"k4":0.2,"k5":0.3,"kd":0.3},
{"t":278,"q1":0.0,"q2":0.2,"q3":0.1,"q4":0.1,"q5":0.2,"qd":0.4,"k1":0.1,"k2":0.3,"k3":0.2,"k4":0.1,"k5":0.2,"kd":0.4},
{"t":282,"q1":-0.1,"q2":0.1,"q3":0.2,"q4":0.2,"q5":0.2,"qd":0.3,"k1":0.2,"k2":0.3,"k3":0.1,"k4":0.2,"k5":0.3,"kd":0.3},
{"t":286,"q1":0.0,"q2":0.2,"q3":0.1,"q4":0.1,"q5":0.3,"qd":0.4,"k1":0.1,"k2":0.4,"k3":0.2,"k4":0.1,"k5":0.2,"kd":0.4},
{"t":290,"q1":-0.1,"q2":0.1,"q3":0.2,"q4":0.2,"q5":0.2,"qd":0.3,"k1":0.2,"k2":0.3,"k3":0.1,"k4":0.2,"k5":0.3,"kd":0.5},
{"t":294,"q1":0.0,"q2":0.2,"q3":0.6,"q4":0.1,"q5":0.7,"qd":0.4,"k1":0.1,"k2":0.8,"k3":0.2,"k4":0.1,"k5":0.2,"kd":1.1},
{"t":298,"q1":-0.1,"q2":0.3,"q3":0.6,"q4":0.2,"q5":0.7,"qd":0.3,"k1":0.2,"k2":0.8,"k3":0.1,"k4":0.2,"k5":0.3,"kd":1.1},
{"t":301,"q3":0.2,"k1":-0.5,"k2":1.0,"kd":1.3},
{"t":303,"q3":-0.5,"k1":-0.7,"k2":1.5,"k3":-0.7,"kd":1.9},
{"t":306,"q1":0.5,"q2":0.4,"q3":-0.3,"q4":0.1,"q5":0.7,"qd":0.4,"k1":0.6,"k2":0.5,"k3":0.1,"k4":0.1,"k5":0.5,"kd":0.4},
{"t":310,"q1":0.5,"q2":0.4,"q3":0.1,"q4":0.2,"q5":0.8,"qd":0.3,"k1":0.6,"k2":0.3,"k3":0.2,"k4":0.2,"k5":0.5,"kd":0.3},
{"t":314,"q1":0.5,"q2":0.4,"q3":0.2,"q4":0.1,"q5":0.7,"qd":0.4,"k1":0.7,"k2":0.3,"k3":0.1,"k4":0.1,"k5":0.6,"kd":0.4},
{"t":318,"q1":0.6,"q2":0.5,"q3":0.1,"q4":0.2,"q5":0.7,"qd":0.3,"k1":0.6,"k2":0.4,"k3":0.2,"k4":0.2,"k5":0.5,"kd":0.3},
{"t":322,"q1":0.5,"q2":0.4,"q3":0.2,"q4":0.1,"q5":0.8,"qd":0.4,"k1":0.6,"k2":0.3,"k3":0.1,"k4":0.1,"k5":0.5,"kd":0.4},
{"t":326,"q1":0.5,"q2":0.4,"q3":0.1,"q4":0.2,"q5":0.7,"qd":0.3,"k1":0.7,"k2":0.3,"k3":0.2,"k4":0.2,"k5":0.6,"kd":0.3},
{"t":330,"q1":0.6,"q2":0.5,"q3":0.2,"q4":0.1,"q5":0.7,"qd":0.4,"k1":0.6,"k2":0.4,"k3":0.1,"k4":0.1,"k5":0.5,"kd":0.4},
{"t":334,"q1":-0.2,"q2":-0.2,"q3":0.1,"q4":0.2,"q5":0.2,"qd":0.3,"k1":0.1,"k2":0.3,"k3":0.2,"k4":0.2,"k5":0.2,"kd":0.3},
{"t":338,"q1":-0.2,"q2":-0.3,"q3":0.2,"q4":0.1,"q5":0.2,"qd":0.4,"k1":0.2,"k2":0.3,"k3":0.1,"k4":0.1,"k5":0.3,"kd":0.4},
{"t":342,"q1":-0.3,"q2":-0.2,"q3":0.1,"q4":0.2,"q5":0.3,"qd":0.3,"k1":0.1,"k2":0.2,"k3":0.2,"k4":0.2,"k5":0.2,"kd":0.3},
{"t":346,"q1":-0.2,"q2":-0.3,"q3":0.2,"q4":0.1,"q5":-0.4,"qd":0.4,"k1":0.2,"k2":0.3,"k3":0.1,"k4":0.1,"k5":0.3,"kd":0.4},
{"t":350,"q1":-0.3,"q2":-0.2,"q3":0.1,"q4":-0.5,"q5":-0.4,"qd":0.3,"k1":0.1,"k2":0.3,"k3":0.2,"k4":0.2,"k5":0.2,"kd":0.5},
{"t":354,"q1":-0.2,"q2":-0.3,"q3":0.2,"q4":-0.4,"q5":-0.3,"qd":0.5,"k1":0.2,"k2":0.3,"k3":0.1,"k4":0.1,"k5":0.3,"kd":0.4},
{"t":358,"q1":-0.3,"q2":-0.2,"q3":0.1,"q4":-0.5,"q5":-0.4,"qd":0.4,"k1":0.1,"k2":0.3,"k3":0.2,"k4":0.2,"k5":0.2,"kd":0.5}
]
},
"vconcat":[
{"width":999,"height":75,
 "encoding":{"x":{"field":"t","type":"quantitative","scale":{"domain":[0,359.64],"nice":false,"zero":false},"axis":{"orient":"top","values":[0,30,60,90,120,150,180,210,240,270,300,330,359.64],"labels":false,"ticks":false,"domain":true,"title":null,"grid":true,"gridDash":{"condition":{"test":"datum.value==0||datum.value>359","value":[]},"value":[1,3]}}}},
 "layer":[
  {"data":{"name":"main"},"mark":{"type":"line","color":"black","strokeWidth":1},
   "encoding":{"y":{"field":"hr","type":"quantitative","scale":{"domain":[4.3,200],"nice":false,"zero":false},"axis":{"orient":"left","values":[40,80,120,160],"labelOverlap":false,"grid":true,"gridDash":[1,5],"title":["Record:","s20511"],"titleAngle":0,"titleAlign":"left","titleBaseline":"alphabetic","titleX":-97,"titleY":9.5,"titleLineHeight":11.2}}}},
  {"data":{"name":"hrspk"},"mark":{"type":"rule","color":"black","strokeWidth":1},
   "encoding":{"y":{"field":"base","type":"quantitative","axis":{"orient":"left","labels":false,"grid":false,"title":["Heart","Rate [bpm]"],"titleAngle":0,"titleAlign":"left","titleBaseline":"alphabetic","titleX":-97,"titleY":39.3,"titleLineHeight":10}},"y2":{"field":"tip"}}}
 ],
 "resolve":{"axis":{"y":"independent"}}},
{"width":999,"height":14,"data":{"name":"boxes"},"transform":[{"filter":"datum.lane=='comb'"}],
 "mark":{"type":"rect","fill":"white","stroke":"black","strokeWidth":1},
 "encoding":{"x":{"field":"t0","type":"quantitative","scale":{"domain":[0,359.64],"nice":false,"zero":false},"axis":{"orient":"top","values":[0,30,60,90,120,150,180,210,240,270,300,330,359.64],"labels":false,"ticks":false,"domain":true,"title":null,"grid":true,"gridDash":{"condition":{"test":"datum.value==0||datum.value>359","value":[]},"value":[1,3]}}},"x2":{"field":"t1"},
  "y":{"datum":1,"type":"quantitative","scale":{"domain":[0,1],"nice":false,"zero":false},"axis":{"labels":false,"grid":false,"title":"Combined Epis.","titleAngle":0,"titleAlign":"left","titleBaseline":"alphabetic","titleX":-97,"titleY":4.5}},
  "y2":{"datum":0.8}}},
{"width":999,"height":54,
 "encoding":{"x":{"field":"t","type":"quantitative","scale":{"domain":[0,359.64],"nice":false,"zero":false},"axis":{"orient":"bottom","values":[0,30,60,90,120,150,180,210,240,270,300,330,359.64],"labels":false,"ticks":false,"domain":false,"title":null,"grid":true,"gridDash":{"condition":{"test":"datum.value==0||datum.value>359","value":[]},"value":[1,3]}}}},
 "layer":[
  {"data":{"name":"main"},"mark":{"type":"line","color":"black","strokeWidth":1},
   "encoding":{"y":{"field":"l0","type":"quantitative","scale":{"domain":[-170,370],"nice":false,"zero":false},"axis":{"orient":"left","values":[-100,0,100,200],"grid":true,"gridDash":[1,5],"title":["Lead 0:","ST Level"],"titleAngle":0,"titleAlign":"left","titleBaseline":"alphabetic","titleX":-97,"titleY":12.7,"titleLineHeight":12.5}}}},
  {"data":{"name":"ref"},"transform":[{"filter":"datum.lead==0"}],"mark":{"type":"line","color":"#ff0000","strokeWidth":2,"interpolate":"step-after"},
   "encoding":{"y":{"field":"v","type":"quantitative","axis":{"orient":"left","labels":false,"grid":false,"title":"ST Reference","titleColor":"#ff0000","titleAngle":0,"titleAlign":"left","titleBaseline":"alphabetic","titleX":-97,"titleY":37}}}}
 ],
 "resolve":{"axis":{"y":"independent"}}},
{"width":999,"height":46,"data":{"name":"main"},"mark":{"type":"line","color":"black","strokeWidth":1},
 "encoding":{"x":{"field":"t","type":"quantitative","scale":{"domain":[0,359.64],"nice":false,"zero":false},"axis":{"orient":"bottom","values":[0,30,60,90,120,150,180,210,240,270,300,330,359.64],"labels":false,"ticks":false,"domain":false,"title":null,"grid":true,"gridDash":{"condition":{"test":"datum.value==0||datum.value>359","value":[]},"value":[1,3]}}},
  "y":{"field":"d0","type":"quantitative","scale":{"domain":[-280,175],"nice":false,"zero":false},"axis":{"values":[-200,-100,0,100],"grid":true,"gridDash":{"condition":{"test":"datum.value==0","value":[]},"value":[1,5]},"title":["[uV]","ST Deviation"],"titleAngle":0,"titleAlign":"left","titleBaseline":"alphabetic","titleX":-97,"titleY":-7.5,"titleLineHeight":24.5}}}},
{"width":999,"height":11,"data":{"name":"boxes"},"transform":[{"filter":"datum.lane=='is0'"}],
 "mark":{"type":"rect","fill":"white","stroke":"black","strokeWidth":1},
 "encoding":{"x":{"field":"t0","type":"quantitative","scale":{"domain":[0,359.64],"nice":false,"zero":false},"axis":{"orient":"top","values":[0,30,60,90,120,150,180,210,240,270,300,330,359.64],"labels":false,"ticks":false,"domain":true,"title":null,"grid":true,"gridDash":{"condition":{"test":"datum.value==0||datum.value>359","value":[]},"value":[1,3]}}},"x2":{"field":"t1"},
  "y":{"datum":1,"type":"quantitative","scale":{"domain":[0,1],"nice":false,"zero":false},"axis":{"labels":false,"grid":false,"title":["Is/RR","Ax/CC"],"titleAngle":0,"titleAlign":"left","titleBaseline":"alphabetic","titleX":-97,"titleY":6,"titleLineHeight":10.5}},
  "y2":{"datum":0.73}}},
{"width":999,"height":48,"data":{"name":"main"},"mark":{"type":"line","color":"black","strokeWidth":1},
 "encoding":{"x":{"field":"t","type":"quantitative","scale":{"domain":[0,359.64],"nice":false,"zero":false},"axis":{"orient":"top","values":[0,30,60,90,120,150,180,210,240,270,300,330,359.64],"labels":false,"ticks":false,"domain":true,"title":null,"grid":true,"gridDash":{"condition":{"test":"datum.value==0||datum.value>359","value":[]},"value":[1,3]}}},
  "y":{"field":"s0","type":"quantitative","scale":{"domain":[-125,362],"nice":false,"zero":false},"axis":{"values":[0,100,200],"grid":true,"gridDash":{"condition":{"test":"datum.value==0","value":[]},"value":[1,5]},"title":"ST Slope","titleAngle":0,"titleAlign":"left","titleBaseline":"alphabetic","titleX":-97,"titleY":34.5}}}},
{"width":999,"height":54,
 "encoding":{"x":{"field":"t","type":"quantitative","scale":{"domain":[0,359.64],"nice":false,"zero":false},"axis":{"orient":"bottom","values":[0,30,60,90,120,150,180,210,240,270,300,330,359.64],"labels":false,"ticks":false,"domain":false,"title":null,"grid":true,"gridDash":{"condition":{"test":"datum.value==0||datum.value>359","value":[]},"value":[1,3]}}}},
 "layer":[
  {"data":{"name":"main"},"mark":{"type":"line","color":"black","strokeWidth":1},
   "encoding":{"y":{"field":"l1","type":"quantitative","scale":{"domain":[-170,370],"nice":false,"zero":false},"axis":{"orient":"left","values":[-100,0,100,200],"grid":true,"gridDash":[1,5],"title":["Lead 1:","ST Level"],"titleAngle":0,"titleAlign":"left","titleBaseline":"alphabetic","titleX":-97,"titleY":13.7,"titleLineHeight":12.5}}}},
  {"data":{"name":"ref"},"transform":[{"filter":"datum.lead==1"}],"mark":{"type":"line","color":"#ff0000","strokeWidth":2,"interpolate":"step-after"},
   "encoding":{"y":{"field":"v","type":"quantitative","axis":{"orient":"left","labels":false,"grid":false,"title":"ST Reference","titleColor":"#ff0000","titleAngle":0,"titleAlign":"left","titleBaseline":"alphabetic","titleX":-97,"titleY":38}}}}
 ],
 "resolve":{"axis":{"y":"independent"}}},
{"width":999,"height":47,"data":{"name":"main"},"mark":{"type":"line","color":"black","strokeWidth":1},
 "encoding":{"x":{"field":"t","type":"quantitative","scale":{"domain":[0,359.64],"nice":false,"zero":false},"axis":{"orient":"bottom","values":[0,30,60,90,120,150,180,210,240,270,300,330,359.64],"labels":false,"ticks":false,"domain":false,"title":null,"grid":true,"gridDash":{"condition":{"test":"datum.value==0||datum.value>359","value":[]},"value":[1,3]}}},
  "y":{"field":"d1","type":"quantitative","scale":{"domain":[-283,187],"nice":false,"zero":false},"axis":{"values":[-200,-100,0,100],"grid":true,"gridDash":{"condition":{"test":"datum.value==0","value":[]},"value":[1,5]},"title":["[uV]","ST Deviation"],"titleAngle":0,"titleAlign":"left","titleBaseline":"alphabetic","titleX":-97,"titleY":-5,"titleLineHeight":23}}}},
{"width":999,"height":11,"data":{"name":"boxes"},"transform":[{"filter":"datum.lane=='is1'"}],
 "mark":{"type":"rect","fill":"white","stroke":"black","strokeWidth":1},
 "encoding":{"x":{"field":"t0","type":"quantitative","scale":{"domain":[0,359.64],"nice":false,"zero":false},"axis":{"orient":"top","values":[0,30,60,90,120,150,180,210,240,270,300,330,359.64],"labels":false,"ticks":false,"domain":true,"title":null,"grid":true,"gridDash":{"condition":{"test":"datum.value==0||datum.value>359","value":[]},"value":[1,3]}}},"x2":{"field":"t1"},
  "y":{"datum":1,"type":"quantitative","scale":{"domain":[0,1],"nice":false,"zero":false},"axis":{"labels":false,"grid":false,"title":["Is/RR","Ax/CC"],"titleAngle":0,"titleAlign":"left","titleBaseline":"alphabetic","titleX":-97,"titleY":4.5,"titleLineHeight":11.5}},
  "y2":{"datum":0.73}}},
{"width":999,"height":225,"data":{"name":"main"},"mark":{"type":"line","color":"black","strokeWidth":1},
 "encoding":{"x":{"field":"t","type":"quantitative","scale":{"domain":[0,359.64],"nice":false,"zero":false},"axis":{"orient":"top","values":[0,30,60,90,120,150,180,210,240,270,300,330,359.64],"labels":false,"ticks":false,"domain":true,"title":null,"grid":true,"gridDash":{"condition":{"test":"datum.value==0||datum.value>359","value":[]},"value":[1,3]}}},
  "y":{"field":"s1","type":"quantitative","scale":{"domain":[-1893,357],"nice":false,"zero":false},"axis":{"values":[0,100,200],"grid":true,"gridDash":{"condition":{"test":"datum.value==0","value":[]},"value":[1,5]},"title":"ST Slope","titleAngle":0,"titleAlign":"left","titleBaseline":"alphabetic","titleX":-97,"titleY":35}}}},
{"width":999,"height":15,"data":{"name":"beats"},"transform":[{"filter":"datum.lane=='n0'"}],
 "mark":{"type":"rule","color":"black","strokeWidth":1},
 "encoding":{"x":{"field":"t","type":"quantitative","scale":{"domain":[0,359.64],"nice":false,"zero":false},"axis":{"orient":"top","values":[0,30,60,90,120,150,180,210,240,270,300,330,359.64],"labels":false,"ticks":false,"domain":true,"title":null,"grid":true,"gridDash":{"condition":{"test":"datum.value==0||datum.value>359","value":[]},"value":[1,3]}}},
  "y":{"datum":1,"type":"quantitative","scale":{"domain":[0,1],"nice":false,"zero":false},"axis":{"labels":false,"grid":false,"title":"Unread/Noise l0","titleAngle":0,"titleAlign":"left","titleBaseline":"alphabetic","titleX":-97,"titleY":-0.5}},
  "y2":{"datum":0.6}}},
{"width":999,"height":30,"data":{"name":"beats"},"transform":[{"filter":"datum.lane=='n1'"}],
 "mark":{"type":"rule","color":"black","strokeWidth":1},
 "encoding":{"x":{"field":"t","type":"quantitative","scale":{"domain":[0,359.64],"nice":false,"zero":false},"axis":{"orient":"top","values":[0,30,60,90,120,150,180,210,240,270,300,330,359.64],"labels":false,"ticks":false,"domain":true,"title":null,"grid":true,"gridDash":{"condition":{"test":"datum.value==0||datum.value>359","value":[]},"value":[1,3]}}},
  "y":{"datum":1,"type":"quantitative","scale":{"domain":[0,1],"nice":false,"zero":false},"axis":{"labels":false,"grid":false,"title":"Unread/Noise l1","titleAngle":0,"titleAlign":"left","titleBaseline":"alphabetic","titleX":-97,"titleY":-1}},
  "y2":{"datum":0.8}}},
{"width":999,"height":10,"data":{"name":"beats"},"transform":[{"filter":"datum.lane=='ab'"}],
 "mark":{"type":"rule","color":"black","strokeWidth":1},
 "encoding":{"x":{"field":"t","type":"quantitative","scale":{"domain":[0,359.64],"nice":false,"zero":false},"axis":{"orient":"top","values":[0,30,60,90,120,150,180,210,240,270,300,330,359.64],"labels":false,"ticks":false,"domain":true,"title":null,"grid":true,"gridDash":{"condition":{"test":"datum.value==0||datum.value>359","value":[]},"value":[1,3]}}},
  "y":{"datum":1,"type":"quantitative","scale":{"domain":[0,1],"nice":false,"zero":false},"axis":{"labels":false,"grid":false,"title":"Abnormal Beats","titleAngle":0,"titleAlign":"left","titleBaseline":"alphabetic","titleX":-97,"titleY":-0.5}},
  "y2":{"datum":0.7}}},
{"width":999,"height":25,"data":{"name":"kl"},"mark":{"type":"line","color":"black","strokeWidth":1},
 "encoding":{"x":{"field":"t","type":"quantitative","scale":{"domain":[0,359.64],"nice":false,"zero":false},"axis":{"orient":"bottom","values":[0,30,60,90,120,150,180,210,240,270,300,330,359.64],"labels":false,"ticks":false,"domain":false,"title":null,"grid":true,"gridDash":{"condition":{"test":"datum.value==0||datum.value>359","value":[]},"value":[1,3]}}},
  "y":{"field":"q1","type":"quantitative","scale":{"domain":[0,5],"nice":false,"zero":false},"axis":{"values":[0,2],"grid":true,"gridDash":{"condition":{"test":"datum.value==0","value":[]},"value":[1,5]},"title":"QRS KL1 [std]","titleAngle":0,"titleAlign":"left","titleBaseline":"alphabetic","titleX":-97,"titleY":30}}}},
{"width":999,"height":25,"data":{"name":"kl"},"mark":{"type":"line","color":"black","strokeWidth":1},
 "encoding":{"x":{"field":"t","type":"quantitative","scale":{"domain":[0,359.64],"nice":false,"zero":false},"axis":{"orient":"bottom","values":[0,30,60,90,120,150,180,210,240,270,300,330,359.64],"labels":false,"ticks":false,"domain":false,"title":null,"grid":true,"gridDash":{"condition":{"test":"datum.value==0||datum.value>359","value":[]},"value":[1,3]}}},
  "y":{"field":"q2","type":"quantitative","scale":{"domain":[0,5],"nice":false,"zero":false},"axis":{"values":[0,2],"grid":true,"gridDash":{"condition":{"test":"datum.value==0","value":[]},"value":[1,5]},"title":"QRS KL2","titleAngle":0,"titleAlign":"left","titleBaseline":"alphabetic","titleX":-97,"titleY":24.5}}}},
{"width":999,"height":25,"data":{"name":"kl"},"mark":{"type":"line","color":"black","strokeWidth":1},
 "encoding":{"x":{"field":"t","type":"quantitative","scale":{"domain":[0,359.64],"nice":false,"zero":false},"axis":{"orient":"bottom","values":[0,30,60,90,120,150,180,210,240,270,300,330,359.64],"labels":false,"ticks":false,"domain":false,"title":null,"grid":true,"gridDash":{"condition":{"test":"datum.value==0||datum.value>359","value":[]},"value":[1,3]}}},
  "y":{"field":"q3","type":"quantitative","scale":{"domain":[0,5],"nice":false,"zero":false},"axis":{"values":[0,2],"grid":true,"gridDash":{"condition":{"test":"datum.value==0","value":[]},"value":[1,5]},"title":"QRS KL3","titleAngle":0,"titleAlign":"left","titleBaseline":"alphabetic","titleX":-97,"titleY":24.5}}}},
{"width":999,"height":25,"data":{"name":"kl"},"mark":{"type":"line","color":"black","strokeWidth":1},
 "encoding":{"x":{"field":"t","type":"quantitative","scale":{"domain":[0,359.64],"nice":false,"zero":false},"axis":{"orient":"bottom","values":[0,30,60,90,120,150,180,210,240,270,300,330,359.64],"labels":false,"ticks":false,"domain":false,"title":null,"grid":true,"gridDash":{"condition":{"test":"datum.value==0||datum.value>359","value":[]},"value":[1,3]}}},
  "y":{"field":"q4","type":"quantitative","scale":{"domain":[0,5],"nice":false,"zero":false},"axis":{"values":[0,2],"grid":true,"gridDash":{"condition":{"test":"datum.value==0","value":[]},"value":[1,5]},"title":"QRS KL4","titleAngle":0,"titleAlign":"left","titleBaseline":"alphabetic","titleX":-97,"titleY":24.3}}}},
{"width":999,"height":25,"data":{"name":"kl"},"mark":{"type":"line","color":"black","strokeWidth":1},
 "encoding":{"x":{"field":"t","type":"quantitative","scale":{"domain":[0,359.64],"nice":false,"zero":false},"axis":{"orient":"bottom","values":[0,30,60,90,120,150,180,210,240,270,300,330,359.64],"labels":false,"ticks":false,"domain":false,"title":null,"grid":true,"gridDash":{"condition":{"test":"datum.value==0||datum.value>359","value":[]},"value":[1,3]}}},
  "y":{"field":"q5","type":"quantitative","scale":{"domain":[0,5],"nice":false,"zero":false},"axis":{"values":[0,2],"grid":true,"gridDash":{"condition":{"test":"datum.value==0","value":[]},"value":[1,5]},"title":"QRS KL5","titleAngle":0,"titleAlign":"left","titleBaseline":"alphabetic","titleX":-97,"titleY":23.8}}}},
{"width":999,"height":25,"data":{"name":"kl"},"mark":{"type":"line","color":"black","strokeWidth":1},
 "encoding":{"x":{"field":"t","type":"quantitative","scale":{"domain":[0,359.64],"nice":false,"zero":false},"axis":{"orient":"bottom","values":[0,30,60,90,120,150,180,210,240,270,300,330,359.64],"labels":false,"ticks":false,"domain":false,"title":null,"grid":true,"gridDash":{"condition":{"test":"datum.value==0||datum.value>359","value":[]},"value":[1,3]}}},
  "y":{"field":"qd","type":"quantitative","scale":{"domain":[0,5],"nice":false,"zero":false},"axis":{"values":[0,2],"grid":true,"gridDash":{"condition":{"test":"datum.value==0","value":[]},"value":[1,5]},"title":"QRS Distance","titleAngle":0,"titleAlign":"left","titleBaseline":"alphabetic","titleX":-97,"titleY":24.3}}}},
{"width":999,"height":25,"data":{"name":"kl"},"mark":{"type":"line","color":"black","strokeWidth":1},
 "encoding":{"x":{"field":"t","type":"quantitative","scale":{"domain":[0,359.64],"nice":false,"zero":false},"axis":{"orient":"bottom","values":[0,30,60,90,120,150,180,210,240,270,300,330,359.64],"labels":false,"ticks":false,"domain":false,"title":null,"grid":true,"gridDash":{"condition":{"test":"datum.value==0||datum.value>359","value":[]},"value":[1,3]}}},
  "y":{"field":"k1","type":"quantitative","scale":{"domain":[0,5],"nice":false,"zero":false},"axis":{"values":[0,2],"grid":true,"gridDash":{"condition":{"test":"datum.value==0","value":[]},"value":[1,5]},"title":"ST KL1 [std]","titleAngle":0,"titleAlign":"left","titleBaseline":"alphabetic","titleX":-97,"titleY":23.8}}}},
{"width":999,"height":25,"data":{"name":"kl"},"mark":{"type":"line","color":"black","strokeWidth":1},
 "encoding":{"x":{"field":"t","type":"quantitative","scale":{"domain":[0,359.64],"nice":false,"zero":false},"axis":{"orient":"bottom","values":[0,30,60,90,120,150,180,210,240,270,300,330,359.64],"labels":false,"ticks":false,"domain":false,"title":null,"grid":true,"gridDash":{"condition":{"test":"datum.value==0||datum.value>359","value":[]},"value":[1,3]}}},
  "y":{"field":"k2","type":"quantitative","scale":{"domain":[0,5],"nice":false,"zero":false},"axis":{"values":[0,2],"grid":true,"gridDash":{"condition":{"test":"datum.value==0","value":[]},"value":[1,5]},"title":"ST KL2","titleAngle":0,"titleAlign":"left","titleBaseline":"alphabetic","titleX":-97,"titleY":24.3}}}},
{"width":999,"height":25,"data":{"name":"kl"},"mark":{"type":"line","color":"black","strokeWidth":1},
 "encoding":{"x":{"field":"t","type":"quantitative","scale":{"domain":[0,359.64],"nice":false,"zero":false},"axis":{"orient":"bottom","values":[0,30,60,90,120,150,180,210,240,270,300,330,359.64],"labels":false,"ticks":false,"domain":false,"title":null,"grid":true,"gridDash":{"condition":{"test":"datum.value==0||datum.value>359","value":[]},"value":[1,3]}}},
  "y":{"field":"k3","type":"quantitative","scale":{"domain":[0,5],"nice":false,"zero":false},"axis":{"values":[0,2],"grid":true,"gridDash":{"condition":{"test":"datum.value==0","value":[]},"value":[1,5]},"title":"ST KL3","titleAngle":0,"titleAlign":"left","titleBaseline":"alphabetic","titleX":-97,"titleY":23.5}}}},
{"width":999,"height":25,"data":{"name":"kl"},"mark":{"type":"line","color":"black","strokeWidth":1},
 "encoding":{"x":{"field":"t","type":"quantitative","scale":{"domain":[0,359.64],"nice":false,"zero":false},"axis":{"orient":"bottom","values":[0,30,60,90,120,150,180,210,240,270,300,330,359.64],"labels":false,"ticks":false,"domain":false,"title":null,"grid":true,"gridDash":{"condition":{"test":"datum.value==0||datum.value>359","value":[]},"value":[1,3]}}},
  "y":{"field":"k4","type":"quantitative","scale":{"domain":[0,5],"nice":false,"zero":false},"axis":{"values":[0,2],"grid":true,"gridDash":{"condition":{"test":"datum.value==0","value":[]},"value":[1,5]},"title":"ST KL4","titleAngle":0,"titleAlign":"left","titleBaseline":"alphabetic","titleX":-97,"titleY":23.5}}}},
{"width":999,"height":25,"data":{"name":"kl"},"mark":{"type":"line","color":"black","strokeWidth":1},
 "encoding":{"x":{"field":"t","type":"quantitative","scale":{"domain":[0,359.64],"nice":false,"zero":false},"axis":{"orient":"bottom","values":[0,30,60,90,120,150,180,210,240,270,300,330,359.64],"labels":false,"ticks":false,"domain":false,"title":null,"grid":true,"gridDash":{"condition":{"test":"datum.value==0||datum.value>359","value":[]},"value":[1,3]}}},
  "y":{"field":"k5","type":"quantitative","scale":{"domain":[0,5],"nice":false,"zero":false},"axis":{"values":[0,2],"grid":true,"gridDash":{"condition":{"test":"datum.value==0","value":[]},"value":[1,5]},"title":"ST KL5","titleAngle":0,"titleAlign":"left","titleBaseline":"alphabetic","titleX":-97,"titleY":23.5}}}},
{"width":999,"height":25,"data":{"name":"kl"},"mark":{"type":"line","color":"black","strokeWidth":1},
 "encoding":{"x":{"field":"t","type":"quantitative","scale":{"domain":[0,359.64],"nice":false,"zero":false},"axis":{"orient":"bottom","values":[0,30,60,90,120,150,180,210,240,270,300,330,359.64],"labels":true,"labelExpr":"datum.value > 359 ? '' : (datum.value < 60 ? format(datum.value, 'd') + ':00' : format(floor(datum.value / 60), 'd') + ':' + (datum.value % 60 < 10 ? '0' : '') + format(datum.value % 60, 'd') + ':00')","labelAlign":"left","labelFlush":false,"labelOverlap":false,"labelPadding":4,"labelBaseline":"top","ticks":true,"tickSize":13,"tickDash":[1,2],"tickOpacity":{"condition":{"test":"datum.value>359","value":0},"value":1},"domain":true,"grid":true,"gridDash":{"condition":{"test":"datum.value==0||datum.value>359","value":[]},"value":[1,3]},"title":["Time","[hh:mm:ss]"],"titleAngle":0,"titleAlign":"left","titleBaseline":"alphabetic","titleX":-97,"titleY":15,"titleLineHeight":10}},
  "y":{"field":"kd","type":"quantitative","scale":{"domain":[0,5],"nice":false,"zero":false},"axis":{"values":[0,2],"grid":true,"gridDash":{"condition":{"test":"datum.value==0","value":[]},"value":[1,5]},"title":"ST Distance","titleAngle":0,"titleAlign":"left","titleBaseline":"alphabetic","titleX":-97,"titleY":24.3}}}}
]
}
